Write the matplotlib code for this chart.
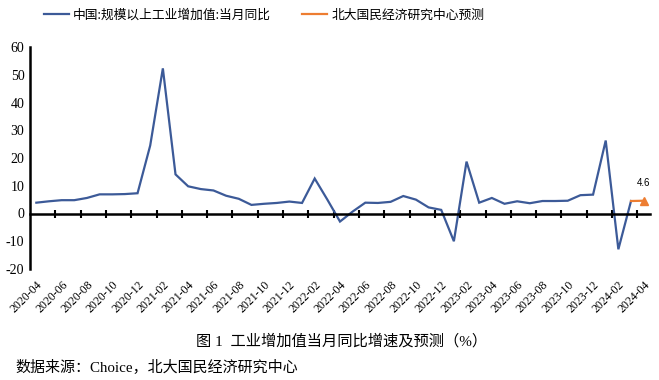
import numpy as np
import pandas as pd
import matplotlib
matplotlib.use('Agg')
import matplotlib.pyplot as plt

plt.rcParams['font.family'] = ['Noto Sans CJK SC', 'DejaVu Sans']

# monthly labels 2020-04 .. 2024-04
months = [str(p) for p in pd.period_range('2020-04', '2024-04', freq='M')]

# 中国:规模以上工业增加值:当月同比 (2020-04 .. 2024-03)
actual = [3.9, 4.4, 4.8, 4.8, 5.6, 6.9, 6.9, 7.0, 7.3,
          24.5, 52.3, 14.1, 9.8, 8.8, 8.3, 6.4, 5.3, 3.1, 3.5, 3.8, 4.3,
          3.8, 12.6, 5.0, -2.9, 0.7, 3.9, 3.8, 4.2, 6.3, 5.0, 2.2, 1.3,
          -10.0, 18.7, 3.9, 5.6, 3.5, 4.4, 3.7, 4.5, 4.5, 4.6, 6.6, 6.8,
          26.3, -12.9, 4.5]
# 北大国民经济研究中心预测
fc_months = ['2024-03', '2024-04']
fc_values = [4.5, 4.6]

yticks = list(range(-20, 61, 10))

blue = '#3C5A98'
orange = '#ED7D31'

xi = np.arange(len(months))
fc_x = [months.index(m) for m in fc_months]

fig = plt.figure(figsize=(6.59, 3.80), dpi=100)
ax = fig.add_axes([30/659, 1-269/380, 620/659, 222/380])

l1, = ax.plot(xi[:len(actual)], actual, color=blue, lw=1.6, solid_joinstyle='miter')
l2, = ax.plot(fc_x, fc_values, color=orange, lw=1.6)
ax.plot(fc_x[-1], fc_values[-1], marker='^', color=orange, ms=6, ls='none')
ax.annotate(f'{fc_values[-1]:.1f}', (fc_x[-1], fc_values[-1]), xytext=(0, 9),
            textcoords='offset points', ha='center', va='bottom', fontsize=7,
            family=['Liberation Sans'])

ax.set_xlim(-0.5, len(months) - 0.5)
ax.set_ylim(yticks[0], yticks[-1])
ax.set_yticks(yticks)
ax.set_yticklabels([str(v) for v in yticks], family=['Liberation Serif'], fontsize=10)
ax.tick_params(axis='y', length=0, pad=4)

for s in ['top', 'right']:
    ax.spines[s].set_visible(False)
ax.spines['left'].set_linewidth(1.8)
ax.spines['bottom'].set_position(('data', 0))
ax.spines['bottom'].set_linewidth(1.8)

# tick marks between categories on the zero line, every 2 months
ax.set_xticks([])
ax.set_xticks(np.arange(1.5, len(months) - 1, 2), minor=True)
ax.tick_params(axis='x', which='minor', direction='inout', length=6, width=1.5)

# category labels at the bottom
sec = ax.secondary_xaxis(0.0)
sec.set_xticks(xi[::2])
sec.set_xticklabels(months[::2], rotation=45, ha='right', va='top',
                    rotation_mode='anchor', family=['Liberation Serif'], fontsize=8.5)
sec.tick_params(length=0, pad=7)
sec.spines['bottom'].set_visible(False)

fig.legend([l1, l2], ['中国:规模以上工业增加值:当月同比', '北大国民经济研究中心预测'],
           loc='center', bbox_to_anchor=(264/659, 1-15/380), ncol=2, frameon=False,
           fontsize=9.2, handlelength=2.0, handletextpad=0.3, columnspacing=2.4)

fig.text(342/659, 1-341/380, '图 1  工业增加值当月同比增速及预测（%）', ha='center', va='center',
         fontsize=11, family=['Liberation Serif', 'Noto Sans CJK SC'])
fig.text(15/659, 1-367/380, '数据来源：Choice，北大国民经济研究中心', ha='left', va='center',
         fontsize=10.8, family=['Liberation Serif', 'Noto Sans CJK SC'])

fig.savefig('out.png', dpi=100)
